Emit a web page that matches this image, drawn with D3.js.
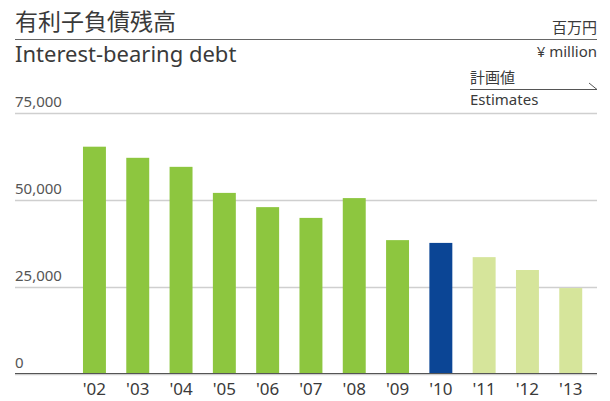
<!DOCTYPE html>
<html>
<head>
<meta charset="utf-8">
<script src="https://cdn.jsdelivr.net/npm/d3@7"></script>
<style>
  body { margin: 0; background: #fff; }
  svg text { font-family: "Noto Sans", "Noto Sans CJK JP", sans-serif; fill: #3a3a3a; }
</style>
</head>
<body>
<script>
// data
var years = ["'02","'03","'04","'05","'06","'07","'08","'09","'10","'11","'12","'13"];
var debt = [65300, 62100, 59500, 52000, 47900, 44800, 50500, 38400, 37600, 33500, 29800, 24600];
var kind = ["actual","actual","actual","actual","actual","actual","actual","actual","current","estimate","estimate","estimate"];
var yTicks = [0, 25000, 50000, 75000];

var colors = { actual: "#8dc63f", current: "#0b4595", estimate: "#d6e59b" };
var fmt = d3.format(",");

var width = 610, height = 401,
    left = 15, right = 597;

var svg = d3.select("body").append("svg")
    .attr("width", width)
    .attr("height", height);

var x = d3.scaleBand()
    .domain(years)
    .range([72.8, 592.4])
    .paddingInner(0.47)
    .paddingOuter(0.235);

var y = d3.scaleLinear()
    .domain([0, 75000])
    .range([373.5, 113]);

// header
svg.append("text")
    .attr("x", 15).attr("y", 30)
    .style("font-size", "23px")
    .style("font-family", "'Noto Sans CJK JP'")
    .text("有利子負債残高");

svg.append("line")
    .attr("x1", left).attr("x2", right)
    .attr("y1", 39.5).attr("y2", 39.5)
    .attr("stroke", "#666").attr("stroke-width", 1.2);

svg.append("text")
    .attr("x", 15).attr("y", 62)
    .style("font-size", "22px")
    .text("Interest-bearing debt");

svg.append("text")
    .attr("x", right).attr("y", 33)
    .attr("text-anchor", "end")
    .style("font-size", "15px")
    .style("font-family", "'Noto Sans CJK JP'")
    .text("百万円");

svg.append("text")
    .attr("x", right).attr("y", 57)
    .attr("text-anchor", "end")
    .style("font-size", "15px")
    .text("¥ million");

// estimates marker
svg.append("text")
    .attr("x", 470).attr("y", 83)
    .style("font-size", "15px")
    .style("font-family", "'Noto Sans CJK JP'")
    .text("計画値");

svg.append("path")
    .attr("d", "M470,89.5H597L589,83")
    .attr("fill", "none")
    .attr("stroke", "#555").attr("stroke-width", 1);

svg.append("text")
    .attr("x", 470).attr("y", 105)
    .style("font-size", "15px")
    .text("Estimates");

// grid
svg.selectAll(".grid")
    .data(yTicks)
  .enter().append("line")
    .attr("class", "grid")
    .attr("x1", left).attr("x2", right)
    .attr("y1", function(d) { return Math.round(y(d)) + 0.5; })
    .attr("y2", function(d) { return Math.round(y(d)) + 0.5; })
    .attr("stroke", "#cfcfcf").attr("stroke-width", 1.5);

svg.selectAll(".ylab")
    .data(yTicks)
  .enter().append("text")
    .attr("class", "ylab")
    .attr("x", left).attr("y", function(d) { return y(d) - 6; })
    .style("font-size", "15px")
    .style("fill", "#555")
    .text(function(d) { return fmt(d); });

// bars
svg.selectAll(".bar")
    .data(debt)
  .enter().append("rect")
    .attr("class", "bar")
    .attr("x", function(d, i) { return x(years[i]); })
    .attr("y", function(d) { return y(d); })
    .attr("width", x.bandwidth())
    .attr("height", function(d) { return y(0) - y(d); })
    .attr("fill", function(d, i) { return colors[kind[i]]; });

// baseline
svg.append("line")
    .attr("x1", left).attr("x2", right)
    .attr("y1", y(0)).attr("y2", y(0))
    .attr("stroke", "#555").attr("stroke-width", 1.2);

// x labels
svg.selectAll(".xlab")
    .data(years)
  .enter().append("text")
    .attr("class", "xlab")
    .attr("x", function(d) { return x(d) + x.bandwidth() / 2; })
    .attr("y", 395)
    .attr("text-anchor", "middle")
    .style("font-size", "17px")
    .text(function(d) { return d; });
</script>
</body>
</html>
